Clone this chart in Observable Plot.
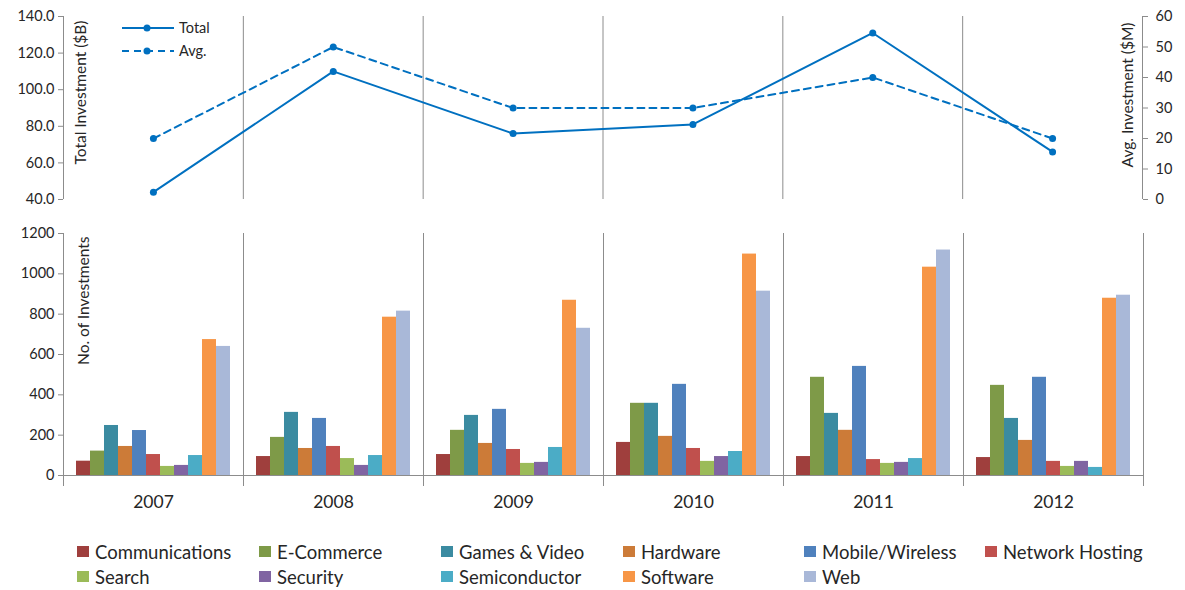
<!DOCTYPE html>
<html><head><meta charset="utf-8">
<script src="https://cdn.jsdelivr.net/npm/d3@7"></script>
<script src="https://cdn.jsdelivr.net/npm/@observablehq/plot@0.6"></script>
<style>
body{margin:0;background:#fff;font-family:Lato, "Open Sans", sans-serif;}
#wrap{position:relative;width:1185px;height:590px;overflow:hidden;}
#top,#bottom{position:absolute;left:0;}
#top{top:0;} #bottom{top:215px;}
.leg{position:absolute;font-size:18.5px;color:#262626;white-space:nowrap;line-height:22px;}
.leg span.sw{position:absolute;left:0;top:5px;width:11.5px;height:11px;}
.leg span.tx{position:absolute;left:18px;top:0;}
</style></head><body><div id="wrap"><div id="top"></div><div id="bottom"></div></div>
<script>
// ---- data ----
const years = ["2007", "2008", "2009", "2010", "2011", "2012"];
const totalInvestment = [44, 110, 76, 81, 131, 66];      // $B (left axis)
const avgInvestment = [20, 50, 30, 30, 40, 20];          // $M (right axis)
const sectors = ["Communications", "E-Commerce", "Games & Video", "Hardware", "Mobile/Wireless", "Network Hosting",
                 "Search", "Security", "Semiconductor", "Software", "Web"];
const sectorColors = ["#9F3F3D", "#7E9A48", "#3B8BA1", "#CC7B38", "#4F81BD", "#C0504D",
                      "#9BBB59", "#8064A2", "#4BACC6", "#F79646", "#A9B8D8"];
const communications = [71, 94, 104, 164, 94, 89];
const eCommerce      = [121, 189, 224, 358, 487, 447];
const gamesVideo     = [248, 313, 298, 358, 308, 283];
const hardware       = [144, 134, 159, 194, 224, 174];
const mobileWireless = [223, 283, 328, 452, 541, 487];
const networkHosting = [104, 144, 129, 134, 79, 70];
const search         = [45, 84, 60, 70, 60, 45];
const security       = [50, 50, 65, 94, 65, 70];
const semiconductor  = [99, 99, 139, 119, 84, 40];
const software       = [674, 785, 869, 1098, 1033, 879];
const web            = [640, 815, 730, 914, 1118, 894];
const leftTicks = [40, 60, 80, 100, 120, 140];
const rightTicks = [0, 10, 20, 30, 40, 50, 60];
const countTicks = [0, 200, 400, 600, 800, 1000, 1200];

const sectorSeries = [communications, eCommerce, gamesVideo, hardware, mobileWireless, networkHosting,
                      search, security, semiconductor, software, web];

// ---- top chart ----
const lineBlue = "#0070C0";
const gridGray = "#8c8c8c";
const textColor = "#262626";
const toLeft = v => 40 + v * 100 / 60;      // map right-axis value to left-axis units
const lineData = years.map((y, i) => ({year: +y, total: totalInvestment[i], avg: toLeft(avgInvestment[i])}));
const edges = d3.range(years.length + 1).map(i => +years[0] - 0.5 + i);

const topChart = Plot.plot({
  width: 1185, height: 215,
  marginLeft: 63, marginRight: 43, marginTop: 16, marginBottom: 16,
  style: {fontFamily: "Lato, sans-serif", fontSize: "14.5px", color: textColor, background: "transparent"},
  x: {domain: [edges[0], edges[edges.length - 1]], axis: null},
  y: {domain: [40, 140], axis: null},
  marks: [
    Plot.ruleX(edges, {stroke: gridGray, strokeWidth: 1}),
    Plot.axisY(leftTicks, {anchor: "left", tickSize: 5, tickPadding: 4, stroke: gridGray, fill: textColor,
      tickFormat: d => d.toFixed(1), label: null}),
    Plot.axisY(rightTicks.map(toLeft), {anchor: "right", tickSize: 5, tickPadding: 8, stroke: gridGray, fill: textColor,
      tickFormat: d => String(Math.round((d - 40) * 0.6)), label: null}),
    Plot.text(["Total Investment ($B)"], {frameAnchor: "top-left", rotate: -90, textAnchor: "end", dx: 11, dy: 4, fill: textColor, fontSize: 15.5}),
    Plot.text(["Avg. Investment ($M)"], {frameAnchor: "top-right", rotate: -90, textAnchor: "end", dx: -21, dy: 6, fill: textColor, fontSize: 15.5}),
    Plot.line(lineData, {x: "year", y: "avg", stroke: lineBlue, strokeWidth: 2, strokeDasharray: "7,5"}),
    Plot.line(lineData, {x: "year", y: "total", stroke: lineBlue, strokeWidth: 2}),
    Plot.dot(lineData, {x: "year", y: "avg", r: 3.5, fill: lineBlue}),
    Plot.dot(lineData, {x: "year", y: "total", r: 3.5, fill: lineBlue})
  ]
});
document.getElementById("top").appendChild(topChart);

// inline legend for the line series
const lg = d3.create("svg").attr("width", 260).attr("height", 70)
  .style("position", "absolute").style("left", "0px").style("top", "0px");
[["Total", null, 28], ["Avg.", "7,5", 51]].forEach(([label, dash, y]) => {
  lg.append("line").attr("x1", 122).attr("x2", 174).attr("y1", y).attr("y2", y)
    .attr("stroke", lineBlue).attr("stroke-width", 2).attr("stroke-dasharray", dash);
  lg.append("circle").attr("cx", 147).attr("cy", y).attr("r", 3.5).attr("fill", lineBlue);
  lg.append("text").attr("x", 179).attr("y", y).attr("dy", "0.35em").attr("fill", textColor)
    .style("font-family", "Lato, sans-serif").style("font-size", "14.5px").text(label);
});
document.getElementById("top").appendChild(lg.node());

// ---- bottom chart ----
const barData = years.flatMap((y, i) => sectors.map((s, j) => ({year: y, sector: s, count: sectorSeries[j][i]})));
const bottomChart = Plot.plot({
  width: 1185, height: 310,
  marginLeft: 63, marginRight: 42, marginTop: 18, marginBottom: 50,
  style: {fontFamily: "Lato, sans-serif", fontSize: "14.5px", color: textColor, background: "transparent"},
  fx: {domain: years, padding: 0, label: null},
  x: {domain: sectors, paddingInner: 0, paddingOuter: 0.7, axis: null},
  y: {domain: [0, 1200], axis: null},
  color: {domain: sectors, range: sectorColors},
  marks: [
    Plot.frame({anchor: "left", stroke: gridGray, insetBottom: -10}),
    Plot.frame({anchor: "right", stroke: gridGray, insetBottom: -10}),
    Plot.barY(barData, {fx: "year", x: "sector", y: "count", fill: "sector"}),
    Plot.ruleY([0], {stroke: gridGray}),
    Plot.axisY(countTicks, {anchor: "left", tickSize: 5, tickPadding: 4, stroke: gridGray, fill: textColor,
      tickFormat: d => String(d), label: null}),
    Plot.axisFx({anchor: "bottom", tickSize: 0, tickPadding: 20, fontSize: 17.5, fill: textColor, label: null}),
    Plot.text(["No. of Investments"], {frameAnchor: "top-left", rotate: -90, textAnchor: "end", dx: 14, dy: 3, fill: textColor, fontSize: 15.5, facet: "super"})
  ]
});
document.getElementById("bottom").appendChild(bottomChart);

// ---- category legend ----
const colLefts = [77, 259, 441, 623, 804, 985];
const rowTops = [541, 566];
const wrap = document.getElementById("wrap");
sectors.forEach((s, i) => {
  const d = document.createElement("div");
  d.className = "leg";
  d.style.left = colLefts[i % 6] + "px";
  d.style.top = rowTops[Math.floor(i / 6)] + "px";
  d.innerHTML = `<span class="sw" style="background:${sectorColors[i]}"></span><span class="tx"></span>`;
  d.querySelector(".tx").textContent = s;
  wrap.appendChild(d);
});
</script></body></html>
